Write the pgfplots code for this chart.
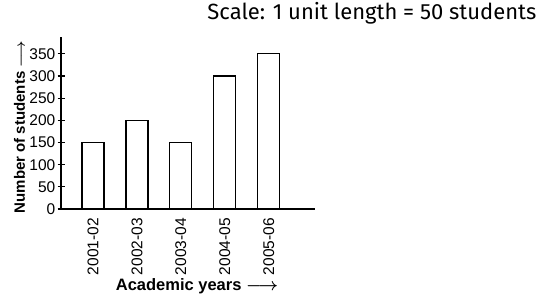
\documentclass[border=0pt]{standalone}
\usepackage{pgfplots}
\pgfplotsset{compat=1.18}
\usepackage{fontspec}
\setmainfont{Liberation Sans}
\newfontfamily\titlefont{Fira Sans}
\begin{document}
\begin{tikzpicture}
\useasboundingbox (0pt,0pt) rectangle (548pt,299pt);
\begin{axis}[at={(61pt,90pt)}, anchor=south west, scale only axis,
  width=254pt, height=172pt,
  axis lines=left, axis line style={-, line width=1.2pt},
  xmin=-0.727, xmax=5.05, ymin=0, ymax=388,
  ytick={0,50,...,350}, xtick={0,1,2,3,4},
  xticklabels={2001-02,2002-03,2003-04,2004-05,2005-06},
  x tick style={draw=none}, y tick style={line width=1.2pt, black},
  tick align=center, major tick length=7pt,
  xticklabel style={rotate=90, anchor=east, inner sep=2pt, font=\fontsize{15.5}{17}\selectfont},
  yticklabel style={inner sep=2pt, font=\fontsize{15.5}{17}\selectfont},
  /pgf/number format/assume math mode=true,
  ylabel={\textbf{Number of students} {\boldmath$\longrightarrow$}},
  ylabel style={font=\fontsize{15}{17}\selectfont, yshift=-1pt, xshift=-4pt},
  xlabel={\textbf{Academic years} {\boldmath$\longrightarrow$}},
  xlabel style={font=\fontsize{16.5}{18}\selectfont, xshift=9pt, yshift=2pt},
  ybar, bar width=22pt,
]
\addplot[draw=black, fill=white, line width=1.2pt] coordinates {(0,150) (1,200) (2,150) (3,300) (4,350)};
\end{axis}
\node[anchor=base east, font=\titlefont\fontsize{22}{26}\selectfont] at (540pt,279pt) {Scale: 1 unit length = 50 students};
\end{tikzpicture}
\end{document}
